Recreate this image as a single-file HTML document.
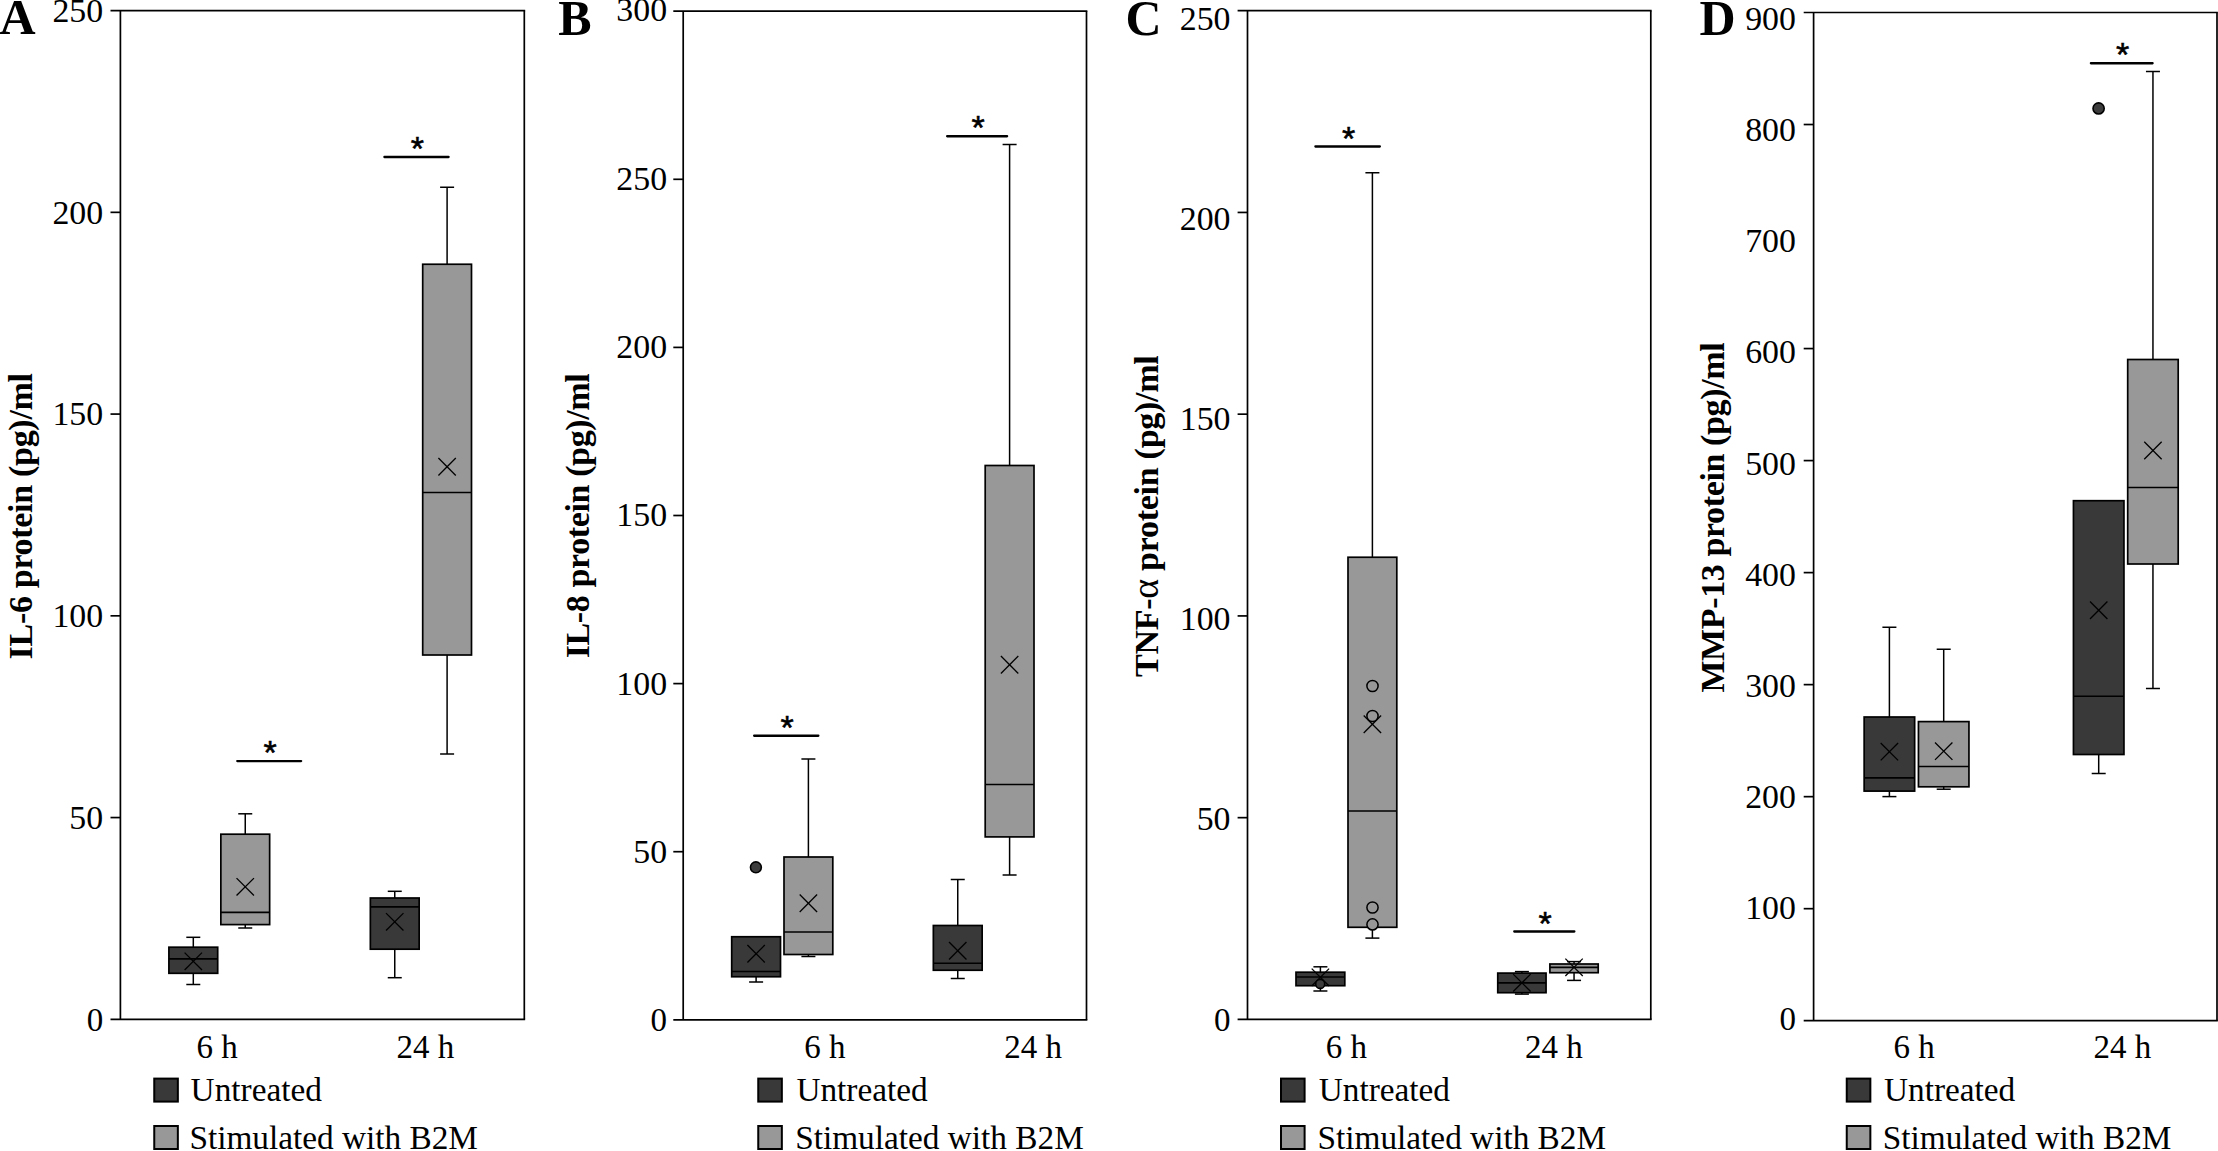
<!DOCTYPE html>
<html lang="en"><head><meta charset="utf-8"><title>Figure</title>
<style>
html,body{margin:0;padding:0;background:#fff;}
body{width:2218px;height:1151px;overflow:hidden;}
svg{display:block;}
text{fill:#000;}
</style></head><body>
<svg width="2218" height="1151" viewBox="0 0 2218 1151">
<rect x="0" y="0" width="2218" height="1151" fill="#fff"/>
<line x1="110.50" y1="10.60" x2="525.15" y2="10.60" stroke="#000" stroke-width="1.7" />
<line x1="110.50" y1="1019.30" x2="525.15" y2="1019.30" stroke="#000" stroke-width="1.7" />
<line x1="120.40" y1="10.60" x2="120.40" y2="1019.30" stroke="#000" stroke-width="1.7" />
<line x1="524.30" y1="10.60" x2="524.30" y2="1019.30" stroke="#000" stroke-width="1.7" />
<line x1="110.50" y1="212.34" x2="120.40" y2="212.34" stroke="#000" stroke-width="1.7" />
<line x1="110.50" y1="414.08" x2="120.40" y2="414.08" stroke="#000" stroke-width="1.7" />
<line x1="110.50" y1="615.82" x2="120.40" y2="615.82" stroke="#000" stroke-width="1.7" />
<line x1="110.50" y1="817.56" x2="120.40" y2="817.56" stroke="#000" stroke-width="1.7" />
<text x="103.20" y="21.60" font-size="33" text-anchor="end" font-weight="normal" font-family='"Liberation Serif", "DejaVu Serif", serif' textLength="50.74" lengthAdjust="spacingAndGlyphs">250</text>
<text x="103.20" y="223.52" font-size="33" text-anchor="end" font-weight="normal" font-family='"Liberation Serif", "DejaVu Serif", serif' textLength="50.74" lengthAdjust="spacingAndGlyphs">200</text>
<text x="103.20" y="425.44" font-size="33" text-anchor="end" font-weight="normal" font-family='"Liberation Serif", "DejaVu Serif", serif' textLength="50.74" lengthAdjust="spacingAndGlyphs">150</text>
<text x="103.20" y="627.36" font-size="33" text-anchor="end" font-weight="normal" font-family='"Liberation Serif", "DejaVu Serif", serif' textLength="50.74" lengthAdjust="spacingAndGlyphs">100</text>
<text x="103.20" y="829.28" font-size="33" text-anchor="end" font-weight="normal" font-family='"Liberation Serif", "DejaVu Serif", serif' textLength="33.82" lengthAdjust="spacingAndGlyphs">50</text>
<text x="103.20" y="1031.20" font-size="33" text-anchor="end" font-weight="normal" font-family='"Liberation Serif", "DejaVu Serif", serif' >0</text>
<text x="-0.50" y="34.00" font-size="50" text-anchor="start" font-weight="bold" font-family='"Liberation Serif", "DejaVu Serif", serif' >A</text>
<text transform="translate(32.30,659.40) rotate(-90)" font-size="34" font-weight="bold" font-family='"Liberation Serif", "DejaVu Serif", serif' textLength="286.4" lengthAdjust="spacing">IL-6 protein (pg)/ml</text>
<line x1="193.30" y1="937.30" x2="193.30" y2="947.20" stroke="#000" stroke-width="1.5" />
<line x1="186.30" y1="937.30" x2="200.30" y2="937.30" stroke="#000" stroke-width="1.5" />
<line x1="193.30" y1="973.30" x2="193.30" y2="984.50" stroke="#000" stroke-width="1.5" />
<line x1="186.30" y1="984.50" x2="200.30" y2="984.50" stroke="#000" stroke-width="1.5" />
<rect x="168.90" y="947.20" width="48.80" height="26.10" fill="#393939" stroke="#000" stroke-width="1.7"/>
<line x1="168.90" y1="958.90" x2="217.70" y2="958.90" stroke="#000" stroke-width="1.65" />
<line x1="184.60" y1="952.60" x2="202.00" y2="970.00" stroke="#000" stroke-width="1.3" />
<line x1="184.60" y1="970.00" x2="202.00" y2="952.60" stroke="#000" stroke-width="1.3" />
<line x1="245.25" y1="813.80" x2="245.25" y2="834.20" stroke="#000" stroke-width="1.5" />
<line x1="238.25" y1="813.80" x2="252.25" y2="813.80" stroke="#000" stroke-width="1.5" />
<line x1="245.25" y1="924.60" x2="245.25" y2="928.00" stroke="#000" stroke-width="1.5" />
<line x1="238.25" y1="928.00" x2="252.25" y2="928.00" stroke="#000" stroke-width="1.5" />
<rect x="220.85" y="834.20" width="48.80" height="90.40" fill="#989898" stroke="#000" stroke-width="1.7"/>
<line x1="220.85" y1="912.40" x2="269.65" y2="912.40" stroke="#000" stroke-width="1.65" />
<line x1="236.55" y1="878.10" x2="253.95" y2="895.50" stroke="#000" stroke-width="1.3" />
<line x1="236.55" y1="895.50" x2="253.95" y2="878.10" stroke="#000" stroke-width="1.3" />
<line x1="394.75" y1="891.30" x2="394.75" y2="898.00" stroke="#000" stroke-width="1.5" />
<line x1="387.75" y1="891.30" x2="401.75" y2="891.30" stroke="#000" stroke-width="1.5" />
<line x1="394.75" y1="949.20" x2="394.75" y2="977.70" stroke="#000" stroke-width="1.5" />
<line x1="387.75" y1="977.70" x2="401.75" y2="977.70" stroke="#000" stroke-width="1.5" />
<rect x="370.35" y="898.00" width="48.80" height="51.20" fill="#393939" stroke="#000" stroke-width="1.7"/>
<line x1="370.35" y1="906.80" x2="419.15" y2="906.80" stroke="#000" stroke-width="1.65" />
<line x1="386.05" y1="913.10" x2="403.45" y2="930.50" stroke="#000" stroke-width="1.3" />
<line x1="386.05" y1="930.50" x2="403.45" y2="913.10" stroke="#000" stroke-width="1.3" />
<line x1="447.10" y1="187.25" x2="447.10" y2="264.25" stroke="#000" stroke-width="1.5" />
<line x1="440.10" y1="187.25" x2="454.10" y2="187.25" stroke="#000" stroke-width="1.5" />
<line x1="447.10" y1="655.00" x2="447.10" y2="754.00" stroke="#000" stroke-width="1.5" />
<line x1="440.10" y1="754.00" x2="454.10" y2="754.00" stroke="#000" stroke-width="1.5" />
<rect x="422.70" y="264.25" width="48.80" height="390.75" fill="#989898" stroke="#000" stroke-width="1.7"/>
<line x1="422.70" y1="492.50" x2="471.50" y2="492.50" stroke="#000" stroke-width="1.65" />
<line x1="438.40" y1="458.05" x2="455.80" y2="475.45" stroke="#000" stroke-width="1.3" />
<line x1="438.40" y1="475.45" x2="455.80" y2="458.05" stroke="#000" stroke-width="1.3" />
<line x1="237.25" y1="761.10" x2="301.15" y2="761.10" stroke="#000" stroke-width="2.3" stroke-linecap="round"/>
<text x="270.10" y="764.10" font-size="34" text-anchor="middle" font-weight="normal" font-family='"Liberation Sans", "DejaVu Sans", sans-serif' stroke="#000" stroke-width="0.55">*</text>
<line x1="384.40" y1="157.00" x2="448.60" y2="157.00" stroke="#000" stroke-width="2.3" stroke-linecap="round"/>
<text x="417.40" y="160.00" font-size="34" text-anchor="middle" font-weight="normal" font-family='"Liberation Sans", "DejaVu Sans", sans-serif' stroke="#000" stroke-width="0.55">*</text>
<text x="196.40" y="1057.70" font-size="33" text-anchor="start" font-weight="normal" font-family='"Liberation Serif", "DejaVu Serif", serif' >6 h</text>
<text x="396.50" y="1057.70" font-size="33" text-anchor="start" font-weight="normal" font-family='"Liberation Serif", "DejaVu Serif", serif' >24 h</text>
<rect x="154.25" y="1078.60" width="23.6" height="23.0" fill="#393939" stroke="#000" stroke-width="2"/>
<rect x="154.25" y="1126.00" width="23.6" height="23.0" fill="#989898" stroke="#000" stroke-width="2"/>
<text x="190.60" y="1100.70" font-size="33.3" text-anchor="start" font-weight="normal" font-family='"Liberation Serif", "DejaVu Serif", serif' >Untreated</text>
<text x="189.40" y="1148.70" font-size="33.3" text-anchor="start" font-weight="normal" font-family='"Liberation Serif", "DejaVu Serif", serif' >Stimulated with B2M</text>
<line x1="673.30" y1="11.20" x2="1087.35" y2="11.20" stroke="#000" stroke-width="1.7" />
<line x1="673.30" y1="1019.80" x2="1087.35" y2="1019.80" stroke="#000" stroke-width="1.7" />
<line x1="683.20" y1="11.20" x2="683.20" y2="1019.80" stroke="#000" stroke-width="1.7" />
<line x1="1086.50" y1="11.20" x2="1086.50" y2="1019.80" stroke="#000" stroke-width="1.7" />
<line x1="673.30" y1="179.30" x2="683.20" y2="179.30" stroke="#000" stroke-width="1.7" />
<line x1="673.30" y1="347.40" x2="683.20" y2="347.40" stroke="#000" stroke-width="1.7" />
<line x1="673.30" y1="515.50" x2="683.20" y2="515.50" stroke="#000" stroke-width="1.7" />
<line x1="673.30" y1="683.60" x2="683.20" y2="683.60" stroke="#000" stroke-width="1.7" />
<line x1="673.30" y1="851.70" x2="683.20" y2="851.70" stroke="#000" stroke-width="1.7" />
<text x="667.10" y="21.40" font-size="33" text-anchor="end" font-weight="normal" font-family='"Liberation Serif", "DejaVu Serif", serif' textLength="50.74" lengthAdjust="spacingAndGlyphs">300</text>
<text x="667.10" y="189.73" font-size="33" text-anchor="end" font-weight="normal" font-family='"Liberation Serif", "DejaVu Serif", serif' textLength="50.74" lengthAdjust="spacingAndGlyphs">250</text>
<text x="667.10" y="358.07" font-size="33" text-anchor="end" font-weight="normal" font-family='"Liberation Serif", "DejaVu Serif", serif' textLength="50.74" lengthAdjust="spacingAndGlyphs">200</text>
<text x="667.10" y="526.40" font-size="33" text-anchor="end" font-weight="normal" font-family='"Liberation Serif", "DejaVu Serif", serif' textLength="50.74" lengthAdjust="spacingAndGlyphs">150</text>
<text x="667.10" y="694.73" font-size="33" text-anchor="end" font-weight="normal" font-family='"Liberation Serif", "DejaVu Serif", serif' textLength="50.74" lengthAdjust="spacingAndGlyphs">100</text>
<text x="667.10" y="863.07" font-size="33" text-anchor="end" font-weight="normal" font-family='"Liberation Serif", "DejaVu Serif", serif' textLength="33.82" lengthAdjust="spacingAndGlyphs">50</text>
<text x="667.10" y="1031.40" font-size="33" text-anchor="end" font-weight="normal" font-family='"Liberation Serif", "DejaVu Serif", serif' >0</text>
<text x="558.20" y="35.00" font-size="50" text-anchor="start" font-weight="bold" font-family='"Liberation Serif", "DejaVu Serif", serif' >B</text>
<text transform="translate(589.20,658.30) rotate(-90)" font-size="34" font-weight="bold" font-family='"Liberation Serif", "DejaVu Serif", serif' textLength="285" lengthAdjust="spacing">IL-8 protein (pg)/ml</text>
<line x1="756.10" y1="976.75" x2="756.10" y2="982.00" stroke="#000" stroke-width="1.5" />
<line x1="749.10" y1="982.00" x2="763.10" y2="982.00" stroke="#000" stroke-width="1.5" />
<rect x="731.70" y="936.75" width="48.80" height="40.00" fill="#393939" stroke="#000" stroke-width="1.7"/>
<line x1="731.70" y1="971.50" x2="780.50" y2="971.50" stroke="#000" stroke-width="1.65" />
<line x1="747.40" y1="945.05" x2="764.80" y2="962.45" stroke="#000" stroke-width="1.3" />
<line x1="747.40" y1="962.45" x2="764.80" y2="945.05" stroke="#000" stroke-width="1.3" />
<circle cx="755.90" cy="867.35" r="5.45" fill="#3c3c3c" stroke="#000" stroke-width="1.6"/>
<line x1="808.40" y1="759.00" x2="808.40" y2="857.00" stroke="#000" stroke-width="1.5" />
<line x1="801.40" y1="759.00" x2="815.40" y2="759.00" stroke="#000" stroke-width="1.5" />
<line x1="808.40" y1="954.50" x2="808.40" y2="956.50" stroke="#000" stroke-width="1.5" />
<line x1="801.40" y1="956.50" x2="815.40" y2="956.50" stroke="#000" stroke-width="1.5" />
<rect x="784.00" y="857.00" width="48.80" height="97.50" fill="#989898" stroke="#000" stroke-width="1.7"/>
<line x1="784.00" y1="932.00" x2="832.80" y2="932.00" stroke="#000" stroke-width="1.65" />
<line x1="799.70" y1="894.55" x2="817.10" y2="911.95" stroke="#000" stroke-width="1.3" />
<line x1="799.70" y1="911.95" x2="817.10" y2="894.55" stroke="#000" stroke-width="1.3" />
<line x1="957.75" y1="879.50" x2="957.75" y2="925.50" stroke="#000" stroke-width="1.5" />
<line x1="950.75" y1="879.50" x2="964.75" y2="879.50" stroke="#000" stroke-width="1.5" />
<line x1="957.75" y1="970.25" x2="957.75" y2="978.50" stroke="#000" stroke-width="1.5" />
<line x1="950.75" y1="978.50" x2="964.75" y2="978.50" stroke="#000" stroke-width="1.5" />
<rect x="933.35" y="925.50" width="48.80" height="44.75" fill="#393939" stroke="#000" stroke-width="1.7"/>
<line x1="933.35" y1="963.25" x2="982.15" y2="963.25" stroke="#000" stroke-width="1.65" />
<line x1="949.05" y1="942.05" x2="966.45" y2="959.45" stroke="#000" stroke-width="1.3" />
<line x1="949.05" y1="959.45" x2="966.45" y2="942.05" stroke="#000" stroke-width="1.3" />
<line x1="1009.60" y1="144.50" x2="1009.60" y2="465.50" stroke="#000" stroke-width="1.5" />
<line x1="1002.60" y1="144.50" x2="1016.60" y2="144.50" stroke="#000" stroke-width="1.5" />
<line x1="1009.60" y1="836.90" x2="1009.60" y2="875.00" stroke="#000" stroke-width="1.5" />
<line x1="1002.60" y1="875.00" x2="1016.60" y2="875.00" stroke="#000" stroke-width="1.5" />
<rect x="985.20" y="465.50" width="48.80" height="371.40" fill="#989898" stroke="#000" stroke-width="1.7"/>
<line x1="985.20" y1="784.50" x2="1034.00" y2="784.50" stroke="#000" stroke-width="1.65" />
<line x1="1000.90" y1="656.05" x2="1018.30" y2="673.45" stroke="#000" stroke-width="1.3" />
<line x1="1000.90" y1="673.45" x2="1018.30" y2="656.05" stroke="#000" stroke-width="1.3" />
<line x1="754.15" y1="735.75" x2="818.35" y2="735.75" stroke="#000" stroke-width="2.3" stroke-linecap="round"/>
<text x="787.15" y="738.75" font-size="34" text-anchor="middle" font-weight="normal" font-family='"Liberation Sans", "DejaVu Sans", sans-serif' stroke="#000" stroke-width="0.55">*</text>
<line x1="947.15" y1="136.25" x2="1007.10" y2="136.25" stroke="#000" stroke-width="2.3" stroke-linecap="round"/>
<text x="978.02" y="139.25" font-size="34" text-anchor="middle" font-weight="normal" font-family='"Liberation Sans", "DejaVu Sans", sans-serif' stroke="#000" stroke-width="0.55">*</text>
<text x="804.20" y="1058.00" font-size="33" text-anchor="start" font-weight="normal" font-family='"Liberation Serif", "DejaVu Serif", serif' >6 h</text>
<text x="1004.30" y="1058.00" font-size="33" text-anchor="start" font-weight="normal" font-family='"Liberation Serif", "DejaVu Serif", serif' >24 h</text>
<rect x="758.25" y="1078.60" width="23.6" height="23.0" fill="#393939" stroke="#000" stroke-width="2"/>
<rect x="758.25" y="1126.00" width="23.6" height="23.0" fill="#989898" stroke="#000" stroke-width="2"/>
<text x="796.40" y="1100.70" font-size="33.3" text-anchor="start" font-weight="normal" font-family='"Liberation Serif", "DejaVu Serif", serif' >Untreated</text>
<text x="795.20" y="1148.70" font-size="33.3" text-anchor="start" font-weight="normal" font-family='"Liberation Serif", "DejaVu Serif", serif' >Stimulated with B2M</text>
<line x1="1237.60" y1="10.70" x2="1651.65" y2="10.70" stroke="#000" stroke-width="1.7" />
<line x1="1237.60" y1="1019.40" x2="1651.65" y2="1019.40" stroke="#000" stroke-width="1.7" />
<line x1="1247.50" y1="10.70" x2="1247.50" y2="1019.40" stroke="#000" stroke-width="1.7" />
<line x1="1650.80" y1="10.70" x2="1650.80" y2="1019.40" stroke="#000" stroke-width="1.7" />
<line x1="1237.60" y1="212.44" x2="1247.50" y2="212.44" stroke="#000" stroke-width="1.7" />
<line x1="1237.60" y1="414.18" x2="1247.50" y2="414.18" stroke="#000" stroke-width="1.7" />
<line x1="1237.60" y1="615.92" x2="1247.50" y2="615.92" stroke="#000" stroke-width="1.7" />
<line x1="1237.60" y1="817.66" x2="1247.50" y2="817.66" stroke="#000" stroke-width="1.7" />
<text x="1230.50" y="29.60" font-size="33" text-anchor="end" font-weight="normal" font-family='"Liberation Serif", "DejaVu Serif", serif' textLength="50.74" lengthAdjust="spacingAndGlyphs">250</text>
<text x="1230.50" y="229.80" font-size="33" text-anchor="end" font-weight="normal" font-family='"Liberation Serif", "DejaVu Serif", serif' textLength="50.74" lengthAdjust="spacingAndGlyphs">200</text>
<text x="1230.50" y="430.00" font-size="33" text-anchor="end" font-weight="normal" font-family='"Liberation Serif", "DejaVu Serif", serif' textLength="50.74" lengthAdjust="spacingAndGlyphs">150</text>
<text x="1230.50" y="630.20" font-size="33" text-anchor="end" font-weight="normal" font-family='"Liberation Serif", "DejaVu Serif", serif' textLength="50.74" lengthAdjust="spacingAndGlyphs">100</text>
<text x="1230.50" y="830.40" font-size="33" text-anchor="end" font-weight="normal" font-family='"Liberation Serif", "DejaVu Serif", serif' textLength="33.82" lengthAdjust="spacingAndGlyphs">50</text>
<text x="1230.50" y="1030.60" font-size="33" text-anchor="end" font-weight="normal" font-family='"Liberation Serif", "DejaVu Serif", serif' >0</text>
<text x="1125.60" y="35.00" font-size="50" text-anchor="start" font-weight="bold" font-family='"Liberation Serif", "DejaVu Serif", serif' >C</text>
<text transform="translate(1158.20,677.00) rotate(-90)" font-size="34" font-weight="bold" font-family='"Liberation Serif", "DejaVu Serif", serif' textLength="321.8" lengthAdjust="spacing">TNF-<tspan font-weight="normal" font-size="38">α</tspan> protein (pg)/ml</text>
<line x1="1372.40" y1="172.75" x2="1372.40" y2="557.25" stroke="#000" stroke-width="1.5" />
<line x1="1365.40" y1="172.75" x2="1379.40" y2="172.75" stroke="#000" stroke-width="1.5" />
<line x1="1372.40" y1="927.30" x2="1372.40" y2="938.10" stroke="#000" stroke-width="1.5" />
<line x1="1365.40" y1="938.10" x2="1379.40" y2="938.10" stroke="#000" stroke-width="1.5" />
<rect x="1348.00" y="557.25" width="48.80" height="370.05" fill="#989898" stroke="#000" stroke-width="1.7"/>
<line x1="1348.00" y1="811.00" x2="1396.80" y2="811.00" stroke="#000" stroke-width="1.65" />
<line x1="1363.70" y1="715.55" x2="1381.10" y2="732.95" stroke="#000" stroke-width="1.3" />
<line x1="1363.70" y1="732.95" x2="1381.10" y2="715.55" stroke="#000" stroke-width="1.3" />
<circle cx="1372.50" cy="686.00" r="5.6" fill="#989898" stroke="#000" stroke-width="1.5"/>
<circle cx="1372.50" cy="716.00" r="5.6" fill="#989898" stroke="#000" stroke-width="1.5"/>
<circle cx="1372.50" cy="907.50" r="5.6" fill="#989898" stroke="#000" stroke-width="1.5"/>
<circle cx="1372.50" cy="924.40" r="5.6" fill="#989898" stroke="#000" stroke-width="1.5"/>
<line x1="1320.40" y1="966.80" x2="1320.40" y2="972.20" stroke="#000" stroke-width="1.5" />
<line x1="1313.40" y1="966.80" x2="1327.40" y2="966.80" stroke="#000" stroke-width="1.5" />
<line x1="1320.40" y1="985.70" x2="1320.40" y2="991.00" stroke="#000" stroke-width="1.5" />
<line x1="1313.40" y1="991.00" x2="1327.40" y2="991.00" stroke="#000" stroke-width="1.5" />
<rect x="1296.00" y="972.20" width="48.80" height="13.50" fill="#393939" stroke="#000" stroke-width="1.7"/>
<line x1="1296.00" y1="977.00" x2="1344.80" y2="977.00" stroke="#000" stroke-width="1.65" />
<line x1="1311.70" y1="968.60" x2="1329.10" y2="986.00" stroke="#000" stroke-width="1.3" />
<line x1="1311.70" y1="986.00" x2="1329.10" y2="968.60" stroke="#000" stroke-width="1.3" />
<circle cx="1320.20" cy="983.90" r="4.5" fill="#3c3c3c" stroke="#000" stroke-width="1.6"/>
<line x1="1521.90" y1="971.60" x2="1521.90" y2="973.10" stroke="#000" stroke-width="1.5" />
<line x1="1514.90" y1="971.60" x2="1528.90" y2="971.60" stroke="#000" stroke-width="1.5" />
<line x1="1521.90" y1="992.70" x2="1521.90" y2="994.10" stroke="#000" stroke-width="1.5" />
<line x1="1514.90" y1="994.10" x2="1528.90" y2="994.10" stroke="#000" stroke-width="1.5" />
<rect x="1497.75" y="973.10" width="48.30" height="19.60" fill="#393939" stroke="#000" stroke-width="1.7"/>
<line x1="1497.75" y1="982.85" x2="1546.05" y2="982.85" stroke="#000" stroke-width="1.65" />
<line x1="1513.20" y1="974.15" x2="1530.60" y2="991.55" stroke="#000" stroke-width="1.3" />
<line x1="1513.20" y1="991.55" x2="1530.60" y2="974.15" stroke="#000" stroke-width="1.3" />
<line x1="1574.05" y1="961.60" x2="1574.05" y2="964.00" stroke="#000" stroke-width="1.5" />
<line x1="1567.05" y1="961.60" x2="1581.05" y2="961.60" stroke="#000" stroke-width="1.5" />
<line x1="1574.05" y1="972.70" x2="1574.05" y2="980.40" stroke="#000" stroke-width="1.5" />
<line x1="1567.05" y1="980.40" x2="1581.05" y2="980.40" stroke="#000" stroke-width="1.5" />
<rect x="1549.90" y="964.00" width="48.30" height="8.70" fill="#989898" stroke="#000" stroke-width="1.7"/>
<line x1="1549.90" y1="967.30" x2="1598.20" y2="967.30" stroke="#000" stroke-width="1.65" />
<line x1="1565.35" y1="958.60" x2="1582.75" y2="976.00" stroke="#000" stroke-width="1.3" />
<line x1="1565.35" y1="976.00" x2="1582.75" y2="958.60" stroke="#000" stroke-width="1.3" />
<line x1="1315.40" y1="146.50" x2="1379.85" y2="146.50" stroke="#000" stroke-width="2.3" stroke-linecap="round"/>
<text x="1348.53" y="149.50" font-size="34" text-anchor="middle" font-weight="normal" font-family='"Liberation Sans", "DejaVu Sans", sans-serif' stroke="#000" stroke-width="0.55">*</text>
<line x1="1514.25" y1="931.50" x2="1574.35" y2="931.50" stroke="#000" stroke-width="2.3" stroke-linecap="round"/>
<text x="1545.20" y="934.50" font-size="34" text-anchor="middle" font-weight="normal" font-family='"Liberation Sans", "DejaVu Sans", sans-serif' stroke="#000" stroke-width="0.55">*</text>
<text x="1325.70" y="1058.00" font-size="33" text-anchor="start" font-weight="normal" font-family='"Liberation Serif", "DejaVu Serif", serif' >6 h</text>
<text x="1525.00" y="1058.00" font-size="33" text-anchor="start" font-weight="normal" font-family='"Liberation Serif", "DejaVu Serif", serif' >24 h</text>
<rect x="1281.00" y="1078.60" width="23.6" height="23.0" fill="#393939" stroke="#000" stroke-width="2"/>
<rect x="1281.00" y="1126.00" width="23.6" height="23.0" fill="#989898" stroke="#000" stroke-width="2"/>
<text x="1318.70" y="1100.70" font-size="33.3" text-anchor="start" font-weight="normal" font-family='"Liberation Serif", "DejaVu Serif", serif' >Untreated</text>
<text x="1317.50" y="1148.70" font-size="33.3" text-anchor="start" font-weight="normal" font-family='"Liberation Serif", "DejaVu Serif", serif' >Stimulated with B2M</text>
<line x1="1803.70" y1="12.50" x2="2217.85" y2="12.50" stroke="#000" stroke-width="1.7" />
<line x1="1803.70" y1="1020.70" x2="2217.85" y2="1020.70" stroke="#000" stroke-width="1.7" />
<line x1="1813.60" y1="12.50" x2="1813.60" y2="1020.70" stroke="#000" stroke-width="1.7" />
<line x1="2217.00" y1="12.50" x2="2217.00" y2="1020.70" stroke="#000" stroke-width="1.7" />
<line x1="1803.70" y1="124.52" x2="1813.60" y2="124.52" stroke="#000" stroke-width="1.7" />
<line x1="1803.70" y1="348.57" x2="1813.60" y2="348.57" stroke="#000" stroke-width="1.7" />
<line x1="1803.70" y1="460.59" x2="1813.60" y2="460.59" stroke="#000" stroke-width="1.7" />
<line x1="1803.70" y1="572.61" x2="1813.60" y2="572.61" stroke="#000" stroke-width="1.7" />
<line x1="1803.70" y1="684.63" x2="1813.60" y2="684.63" stroke="#000" stroke-width="1.7" />
<line x1="1803.70" y1="796.66" x2="1813.60" y2="796.66" stroke="#000" stroke-width="1.7" />
<line x1="1803.70" y1="908.68" x2="1813.60" y2="908.68" stroke="#000" stroke-width="1.7" />
<text x="1795.90" y="30.00" font-size="33" text-anchor="end" font-weight="normal" font-family='"Liberation Serif", "DejaVu Serif", serif' textLength="50.74" lengthAdjust="spacingAndGlyphs">900</text>
<text x="1795.90" y="141.16" font-size="33" text-anchor="end" font-weight="normal" font-family='"Liberation Serif", "DejaVu Serif", serif' textLength="50.74" lengthAdjust="spacingAndGlyphs">800</text>
<text x="1795.90" y="252.31" font-size="33" text-anchor="end" font-weight="normal" font-family='"Liberation Serif", "DejaVu Serif", serif' textLength="50.74" lengthAdjust="spacingAndGlyphs">700</text>
<text x="1795.90" y="363.47" font-size="33" text-anchor="end" font-weight="normal" font-family='"Liberation Serif", "DejaVu Serif", serif' textLength="50.74" lengthAdjust="spacingAndGlyphs">600</text>
<text x="1795.90" y="474.62" font-size="33" text-anchor="end" font-weight="normal" font-family='"Liberation Serif", "DejaVu Serif", serif' textLength="50.74" lengthAdjust="spacingAndGlyphs">500</text>
<text x="1795.90" y="585.78" font-size="33" text-anchor="end" font-weight="normal" font-family='"Liberation Serif", "DejaVu Serif", serif' textLength="50.74" lengthAdjust="spacingAndGlyphs">400</text>
<text x="1795.90" y="696.93" font-size="33" text-anchor="end" font-weight="normal" font-family='"Liberation Serif", "DejaVu Serif", serif' textLength="50.74" lengthAdjust="spacingAndGlyphs">300</text>
<text x="1795.90" y="808.09" font-size="33" text-anchor="end" font-weight="normal" font-family='"Liberation Serif", "DejaVu Serif", serif' textLength="50.74" lengthAdjust="spacingAndGlyphs">200</text>
<text x="1795.90" y="919.24" font-size="33" text-anchor="end" font-weight="normal" font-family='"Liberation Serif", "DejaVu Serif", serif' textLength="50.74" lengthAdjust="spacingAndGlyphs">100</text>
<text x="1795.90" y="1030.40" font-size="33" text-anchor="end" font-weight="normal" font-family='"Liberation Serif", "DejaVu Serif", serif' >0</text>
<text x="1699.50" y="35.00" font-size="50" text-anchor="start" font-weight="bold" font-family='"Liberation Serif", "DejaVu Serif", serif' >D</text>
<text transform="translate(1724.00,692.60) rotate(-90)" font-size="34" font-weight="bold" font-family='"Liberation Serif", "DejaVu Serif", serif' textLength="350.2" lengthAdjust="spacing">MMP-13 protein (pg)/ml</text>
<line x1="1889.40" y1="627.25" x2="1889.40" y2="717.00" stroke="#000" stroke-width="1.5" />
<line x1="1882.40" y1="627.25" x2="1896.40" y2="627.25" stroke="#000" stroke-width="1.5" />
<line x1="1889.40" y1="791.10" x2="1889.40" y2="796.60" stroke="#000" stroke-width="1.5" />
<line x1="1882.40" y1="796.60" x2="1896.40" y2="796.60" stroke="#000" stroke-width="1.5" />
<rect x="1864.15" y="717.00" width="50.50" height="74.10" fill="#393939" stroke="#000" stroke-width="1.7"/>
<line x1="1864.15" y1="777.80" x2="1914.65" y2="777.80" stroke="#000" stroke-width="1.65" />
<line x1="1880.70" y1="743.00" x2="1898.10" y2="760.40" stroke="#000" stroke-width="1.3" />
<line x1="1880.70" y1="760.40" x2="1898.10" y2="743.00" stroke="#000" stroke-width="1.3" />
<line x1="1943.70" y1="649.25" x2="1943.70" y2="721.60" stroke="#000" stroke-width="1.5" />
<line x1="1936.70" y1="649.25" x2="1950.70" y2="649.25" stroke="#000" stroke-width="1.5" />
<line x1="1943.70" y1="786.80" x2="1943.70" y2="789.20" stroke="#000" stroke-width="1.5" />
<line x1="1936.70" y1="789.20" x2="1950.70" y2="789.20" stroke="#000" stroke-width="1.5" />
<rect x="1918.45" y="721.60" width="50.50" height="65.20" fill="#989898" stroke="#000" stroke-width="1.7"/>
<line x1="1918.45" y1="766.50" x2="1968.95" y2="766.50" stroke="#000" stroke-width="1.65" />
<line x1="1935.00" y1="742.50" x2="1952.40" y2="759.90" stroke="#000" stroke-width="1.3" />
<line x1="1935.00" y1="759.90" x2="1952.40" y2="742.50" stroke="#000" stroke-width="1.3" />
<line x1="2098.70" y1="754.50" x2="2098.70" y2="773.50" stroke="#000" stroke-width="1.5" />
<line x1="2091.70" y1="773.50" x2="2105.70" y2="773.50" stroke="#000" stroke-width="1.5" />
<rect x="2073.45" y="500.70" width="50.50" height="253.80" fill="#393939" stroke="#000" stroke-width="1.7"/>
<line x1="2073.45" y1="696.25" x2="2123.95" y2="696.25" stroke="#000" stroke-width="1.65" />
<line x1="2090.00" y1="601.55" x2="2107.40" y2="618.95" stroke="#000" stroke-width="1.3" />
<line x1="2090.00" y1="618.95" x2="2107.40" y2="601.55" stroke="#000" stroke-width="1.3" />
<circle cx="2098.60" cy="108.45" r="5.6" fill="#3c3c3c" stroke="#000" stroke-width="1.6"/>
<line x1="2152.95" y1="71.50" x2="2152.95" y2="359.50" stroke="#000" stroke-width="1.5" />
<line x1="2145.95" y1="71.50" x2="2159.95" y2="71.50" stroke="#000" stroke-width="1.5" />
<line x1="2152.95" y1="564.00" x2="2152.95" y2="688.50" stroke="#000" stroke-width="1.5" />
<line x1="2145.95" y1="688.50" x2="2159.95" y2="688.50" stroke="#000" stroke-width="1.5" />
<rect x="2127.70" y="359.50" width="50.50" height="204.50" fill="#989898" stroke="#000" stroke-width="1.7"/>
<line x1="2127.70" y1="487.50" x2="2178.20" y2="487.50" stroke="#000" stroke-width="1.65" />
<line x1="2144.25" y1="441.80" x2="2161.65" y2="459.20" stroke="#000" stroke-width="1.3" />
<line x1="2144.25" y1="459.20" x2="2161.65" y2="441.80" stroke="#000" stroke-width="1.3" />
<line x1="2090.90" y1="63.25" x2="2152.60" y2="63.25" stroke="#000" stroke-width="2.3" stroke-linecap="round"/>
<text x="2122.65" y="66.25" font-size="34" text-anchor="middle" font-weight="normal" font-family='"Liberation Sans", "DejaVu Sans", sans-serif' stroke="#000" stroke-width="0.55">*</text>
<text x="1893.40" y="1057.70" font-size="33" text-anchor="start" font-weight="normal" font-family='"Liberation Serif", "DejaVu Serif", serif' >6 h</text>
<text x="2093.50" y="1057.70" font-size="33" text-anchor="start" font-weight="normal" font-family='"Liberation Serif", "DejaVu Serif", serif' >24 h</text>
<rect x="1846.75" y="1078.60" width="23.6" height="23.0" fill="#393939" stroke="#000" stroke-width="2"/>
<rect x="1846.75" y="1126.00" width="23.6" height="23.0" fill="#989898" stroke="#000" stroke-width="2"/>
<text x="1884.00" y="1100.70" font-size="33.3" text-anchor="start" font-weight="normal" font-family='"Liberation Serif", "DejaVu Serif", serif' >Untreated</text>
<text x="1882.80" y="1148.70" font-size="33.3" text-anchor="start" font-weight="normal" font-family='"Liberation Serif", "DejaVu Serif", serif' >Stimulated with B2M</text>
</svg>
</body></html>
